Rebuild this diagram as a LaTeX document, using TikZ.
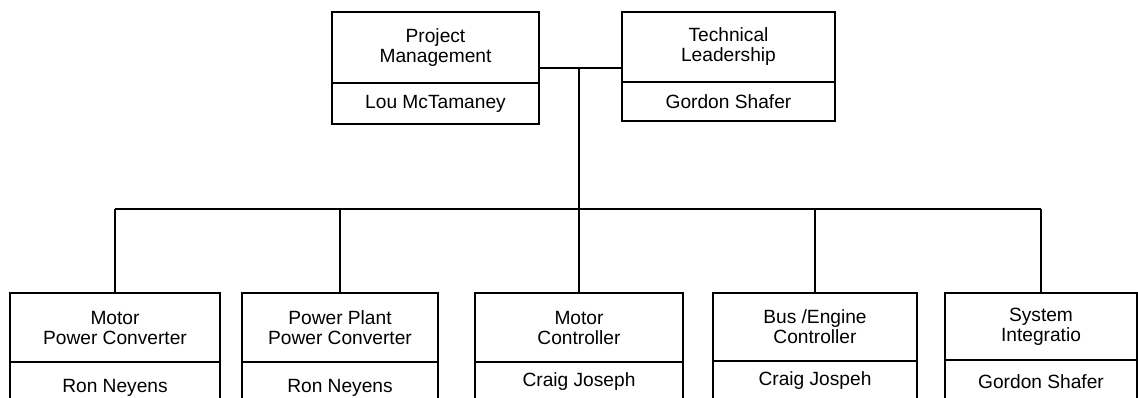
\documentclass[tikz,border=0pt]{standalone}
\usepackage{fontspec}
\setmainfont{Liberation Sans}
\usetikzlibrary{positioning}
\newcommand{\pxu}{0.6pt}
\tikzstyle{orgtitle}=[draw, line width=1.2pt, outer sep=0pt, inner sep=0pt, align=center, font=\fontsize{11.5}{12}\selectfont]
\tikzstyle{orgname}=[draw, line width=1.2pt, outer sep=0pt, inner sep=0pt, align=center, font=\fontsize{11.5}{12}\selectfont]
\tikzstyle{orglink}=[line width=0.9pt]

\begin{document}
\begin{tikzpicture}[x=\pxu, y=-\pxu]
\useasboundingbox (0,0) rectangle (1138,398);
\clip (0,0) rectangle (1138,398);
\node[orgtitle, minimum width=207*\pxu, minimum height=71*\pxu, anchor=north] (pmT) at (435.5,12) {Project\\Management};
\node[orgname, minimum width=207*\pxu, minimum height=41*\pxu, below=0pt of pmT] (pmN) {Lou McTamaney};
\node[orgtitle, minimum width=213*\pxu, minimum height=70*\pxu, anchor=north] (tlT) at (728.5,12) {Technical\\Leadership};
\node[orgname, minimum width=213*\pxu, minimum height=39*\pxu, below=0pt of tlT] (tlN) {Gordon Shafer};
\node[orgtitle, minimum width=210*\pxu, minimum height=69*\pxu, anchor=north] (mpT) at (115,293) {Motor\\Power Converter};
\node[orgname, minimum width=210*\pxu, minimum height=52*\pxu, below=0pt of mpT] (mpN) {Ron Neyens};
\node[orgtitle, minimum width=196*\pxu, minimum height=69*\pxu, anchor=north] (ppT) at (340,293) {Power Plant\\Power Converter};
\node[orgname, minimum width=196*\pxu, minimum height=52*\pxu, below=0pt of ppT] (ppN) {Ron Neyens};
\node[orgtitle, minimum width=208*\pxu, minimum height=69*\pxu, anchor=north] (mcT) at (579,293) {Motor\\Controller};
\node[orgname, minimum width=208*\pxu, minimum height=40*\pxu, below=0pt of mcT] (mcN) {Craig Joseph};
\node[orgtitle, minimum width=204*\pxu, minimum height=68*\pxu, anchor=north] (beT) at (815,293) {Bus /Engine\\Controller};
\node[orgname, minimum width=204*\pxu, minimum height=40*\pxu, below=0pt of beT] (beN) {Craig Jospeh};
\node[orgtitle, minimum width=192*\pxu, minimum height=67*\pxu, anchor=north] (siT) at (1041,293) {System\\Integratio};
\node[orgname, minimum width=192*\pxu, minimum height=44*\pxu, below=0pt of siT] (siN) {Gordon Shafer};
\coordinate (hub) at (579,68);
\coordinate (bus) at (579,209);
\draw[orglink] (hub -| pmT.east) -- (hub -| tlT.west);
\draw[orglink] (hub) -- (bus);
\draw[orglink] (bus -| mpT.north) -- (bus -| siT.north);
\draw[orglink] (bus -| mpT.north) -- (mpT.north);
\draw[orglink] (bus -| ppT.north) -- (ppT.north);
\draw[orglink] (bus -| mcT.north) -- (mcT.north);
\draw[orglink] (bus -| beT.north) -- (beT.north);
\draw[orglink] (bus -| siT.north) -- (siT.north);
\end{tikzpicture}
\end{document}
